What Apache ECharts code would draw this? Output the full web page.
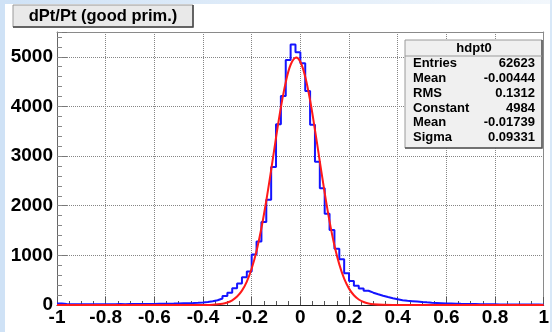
<!DOCTYPE html>
<html><head><meta charset="utf-8">
<script src="https://cdn.jsdelivr.net/npm/echarts@6/dist/echarts.min.js"></script>
<style>html,body{margin:0;padding:0;background:#fff}#c{width:552px;height:332px}</style>
</head><body><div id="c"></div>
<script>
// ---- data ----
const titleText = 'dPt/Pt (good prim.)';
const histName = 'hdpt0';
const binStart = -1;
const binWidth = 0.02;
const binCounts = [
  28, 18, 16, 17, 15, 16, 14, 15, 16, 15,
  17, 16, 18, 17, 19, 18, 20, 19, 21, 22,
  24, 25, 27, 28, 31, 34, 37, 41, 46, 52,
  60, 75, 95, 131, 182, 245, 336, 433, 557, 675,
  1015, 1280, 1670, 2120, 2782, 3640, 4210, 4935, 5250, 5090,
  4868, 4312, 3632, 2886, 2350, 1836, 1513, 1135, 922, 641,
  485, 386, 330, 287, 248, 216, 186, 160, 136, 116,
  96, 86, 78, 70, 61, 53, 46, 41, 36, 31,
  29, 26, 23, 21, 19, 18, 16, 15, 14, 13,
  12, 12, 11, 10, 10, 9, 9, 8, 8, 7
];
const fitX = [-1, -0.5, -0.44, -0.40, -0.36, -0.32, -0.30, -0.28, -0.26, -0.24, -0.22, -0.20, -0.18, -0.16, -0.14, -0.12, -0.10, -0.08, -0.06, -0.04, -0.017, 0, 0.02, 0.04, 0.06, 0.08, 0.10, 0.12, 0.14, 0.16, 0.18, 0.20, 0.22, 0.24, 0.26, 0.28, 0.30, 0.34, 0.40, 0.5, 1];
const fitY = [0, 0, 0, 1, 6, 26, 51, 95, 170, 290, 472, 735, 1090, 1550, 2100, 2720, 3370, 3980, 4490, 4840, 4984, 4900, 4600, 4125, 3530, 2890, 2260, 1685, 1200, 818, 531, 330, 196, 111, 60, 31, 15, 3, 0, 0, 0];
const statLabels = ['Entries', 'Mean', 'RMS', 'Constant', 'Mean', 'Sigma'];
const statValues = ['62623', '-0.00444', '0.1312', '4984', '-0.01739', '0.09331'];
const yLabelValues = [0, 1000, 2000, 3000, 4000, 5000];

// ---- build series data ----
const histData = binCounts.map((v, i) => [binStart + i * binWidth, v]);
histData.push([binStart + binCounts.length * binWidth, binCounts[binCounts.length - 1]]);
const fitData = fitX.map((x, i) => [x, fitY[i]]);

const FONT = 'Liberation Sans, Arial, Helvetica, sans-serif';
const chart = echarts.init(document.getElementById('c'), null, {renderer: 'canvas'});

const statRows = [];
const rowY = [63, 78, 93, 108, 122, 137];
statLabels.forEach((l, i) => {
  statRows.push({type: 'text', z: 102, style: {x: 413, y: rowY[i], text: l, font: 'bold 13px ' + FONT, fill: '#000', textVerticalAlign: 'middle', textAlign: 'left'}});
  statRows.push({type: 'text', z: 102, style: {x: 535, y: rowY[i], text: statValues[i], font: 'bold 13px ' + FONT, fill: '#000', textVerticalAlign: 'middle', textAlign: 'right'}});
});

const GL = {show: true, showMinLine: false, showMaxLine: false, lineStyle: {color: '#858585', type: [1, 1], width: 1}};

chart.setOption({
  animation: false,
  grid: {left: 57, right: 3, top: 32, bottom: 27, show: false},
  xAxis: [{
    type: 'value', min: -1, max: 1, interval: 0.2,
    axisLine: {show: true, onZero: false, lineStyle: {color: '#222', width: 1}},
    axisTick: {show: true, inside: true, length: 8, lineStyle: {color: '#555'}},
    minorTick: {show: true, splitNumber: 4, length: 4, lineStyle: {color: '#555'}},
    splitLine: GL,
    axisLabel: {margin: 3, fontSize: 19, fontWeight: 'bold', fontFamily: FONT, color: '#000', showMinLabel: true, showMaxLabel: true}
  }, {
    type: 'value', min: -1, max: 1, interval: 0.2, position: 'top',
    axisLine: {show: true, onZero: false, lineStyle: {color: '#8a8a8a', width: 1}},
    axisTick: {show: false}, axisLabel: {show: false}, splitLine: {show: false}
  }],
  yAxis: [{
    type: 'value', min: 0, max: 5500, interval: 1000,
    axisLine: {show: true, onZero: false, lineStyle: {color: '#666', width: 1}},
    axisTick: {show: true, inside: true, length: 10, lineStyle: {color: '#777'}},
    splitLine: GL,
    axisLabel: {margin: 4, fontSize: 19, fontWeight: 'bold', fontFamily: FONT, color: '#000',
      formatter: v => yLabelValues.indexOf(v) >= 0 ? String(v) : ''}
  }, {
    type: 'value', min: 0, max: 5500, interval: 200, position: 'left',
    axisLine: {show: false, onZero: false}, splitLine: {show: false}, axisLabel: {show: false},
    axisTick: {show: true, inside: true, length: 5, lineStyle: {color: '#888'}}
  }, {
    type: 'value', min: 0, max: 5500, position: 'right',
    axisLine: {show: true, onZero: false, lineStyle: {color: '#8a8a8a', width: 1}},
    axisTick: {show: false}, axisLabel: {show: false}, splitLine: {show: false}
  }],
  series: [{
    type: 'line', step: 'end', data: histData, showSymbol: false, symbol: 'none',
    lineStyle: {color: '#1414ff', width: 2}, z: 3
  }, {
    type: 'line', smooth: 0.35, data: fitData, showSymbol: false, symbol: 'none',
    lineStyle: {color: '#ff1a1a', width: 2}, z: 4
  }],
  graphic: [
    {type: 'rect', z: -10, silent: true, shape: {x: 0, y: 0, width: 552, height: 4},
      style: {fill: new echarts.graphic.LinearGradient(0, 0, 1, 0, [{offset: 0, color: '#cfe2f6'}, {offset: 1, color: '#f2f7fc'}])}},
    {type: 'rect', z: -10, silent: true, shape: {x: 0, y: 0, width: 5, height: 332}, style: {fill: '#cfe2f6'}},
    {type: 'rect', z: -10, silent: true, shape: {x: 550, y: 0, width: 2, height: 332}, style: {fill: '#d8e8f8'}},
    // title box
    {type: 'rect', z: 100, shape: {x: 13, y: 5, width: 180, height: 22}, style: {fill: '#e9e9e9', stroke: '#9a9a9a', lineWidth: 1}},
    {type: 'polyline', z: 101, shape: {points: [[193, 5], [193, 27], [13, 27]]}, style: {stroke: '#444', lineWidth: 1.5, fill: null}},
    {type: 'text', z: 102, style: {x: 103, y: 16, text: titleText, font: 'bold 16.5px ' + FONT, fill: '#000', textAlign: 'center', textVerticalAlign: 'middle'}},
    // stats box
    {type: 'rect', z: 100, shape: {x: 405, y: 40, width: 137, height: 108}, style: {fill: '#f0f0f0', stroke: '#9a9a9a', lineWidth: 1}},
    {type: 'polyline', z: 101, shape: {points: [[542, 40], [542, 148], [405, 148]]}, style: {stroke: '#555', lineWidth: 1.5, fill: null}},
    {type: 'line', z: 101, shape: {x1: 405, y1: 56, x2: 542, y2: 56}, style: {stroke: '#9a9a9a', lineWidth: 1}},
    {type: 'text', z: 102, style: {x: 474, y: 48, text: histName, font: 'bold 13px ' + FONT, fill: '#000', textAlign: 'center', textVerticalAlign: 'middle'}}
  ].concat(statRows)
});
</script></body></html>
